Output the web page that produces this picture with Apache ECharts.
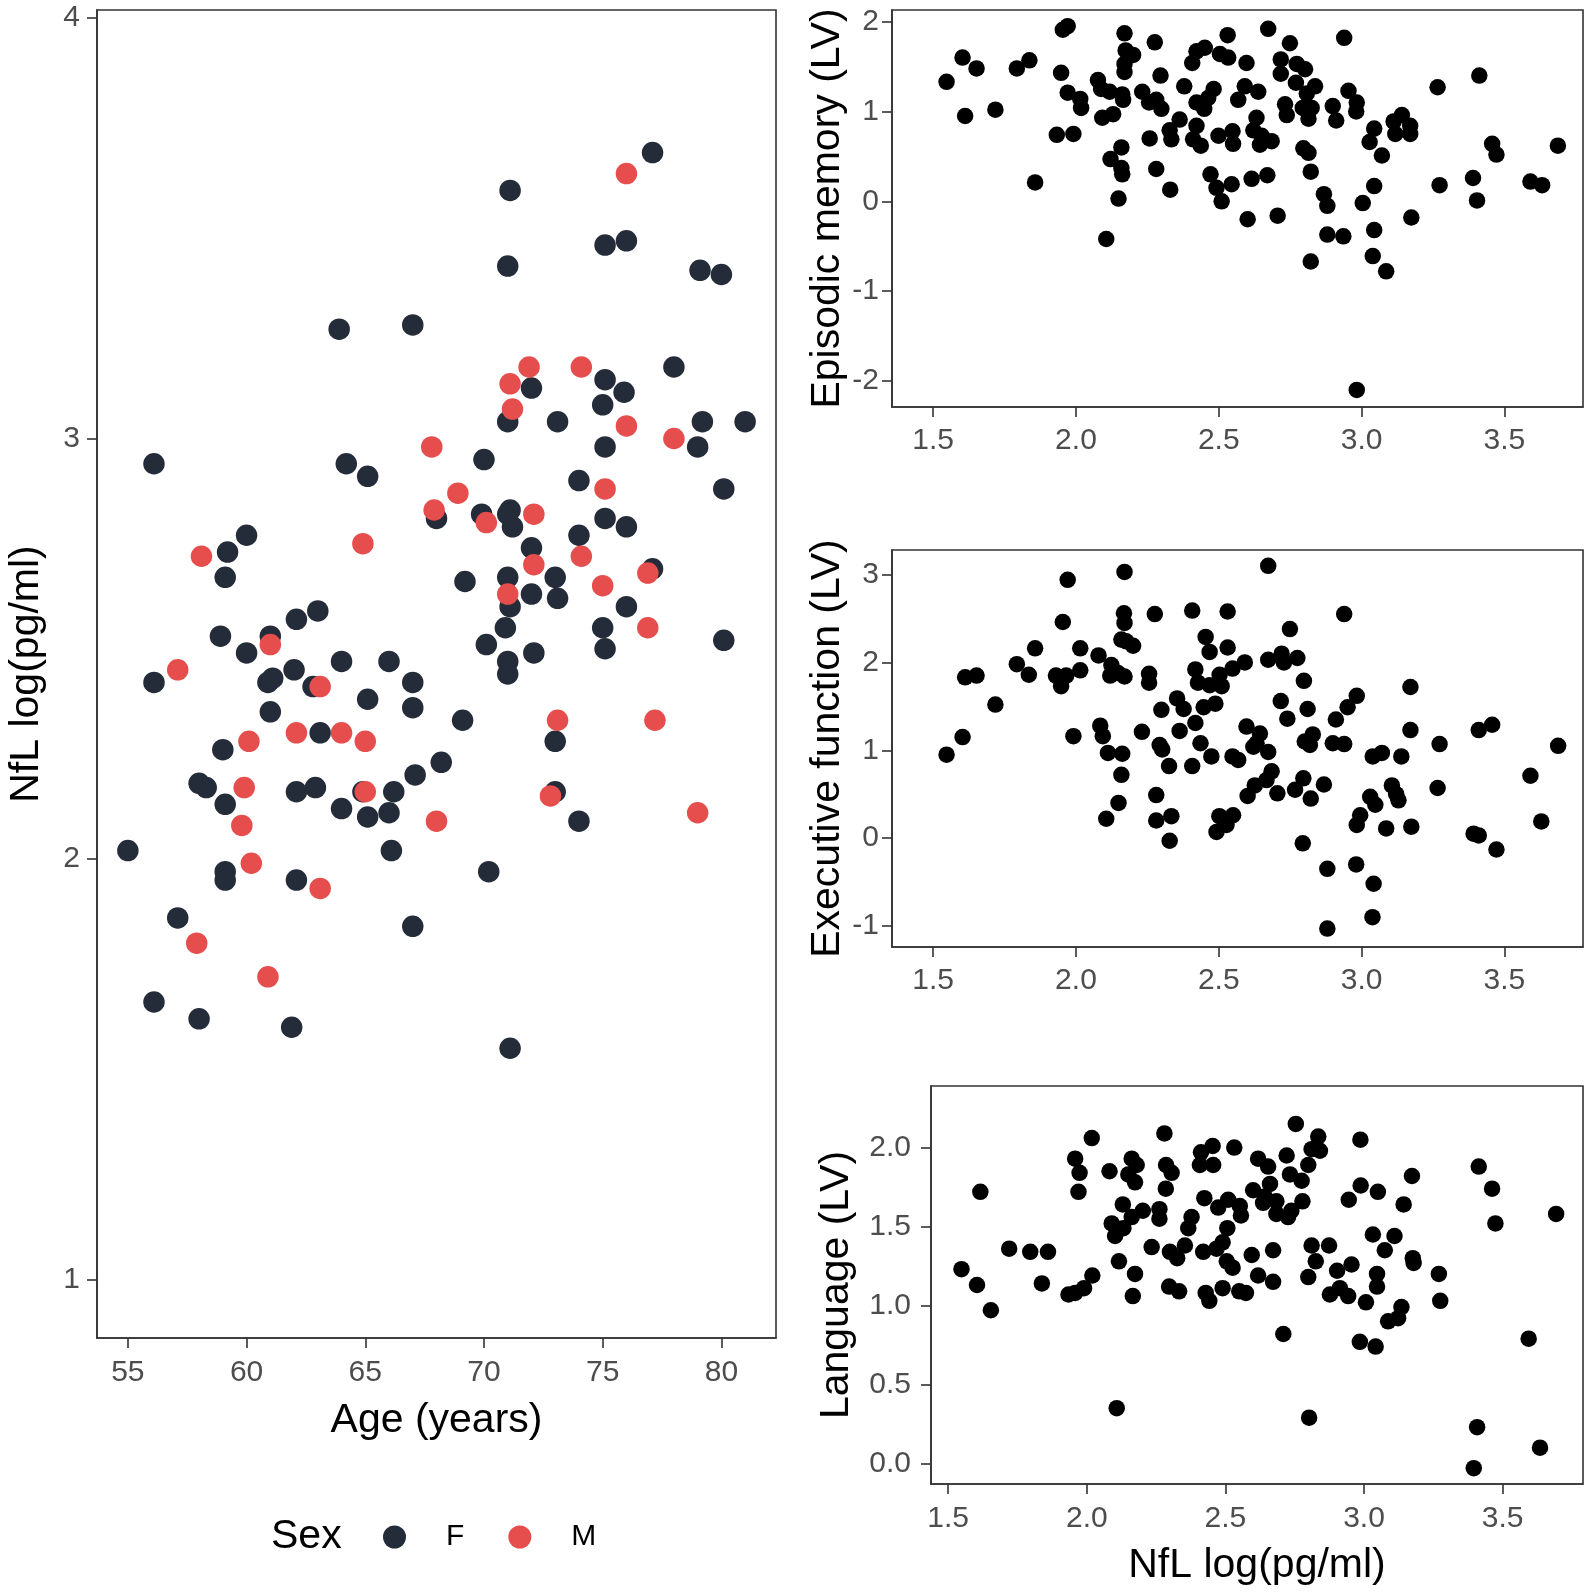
<!DOCTYPE html>
<html>
<head>
<meta charset="utf-8">
<script src="https://cdn.jsdelivr.net/npm/echarts@6/dist/echarts.min.js"></script>
<style>
  html, body { margin: 0; padding: 0; background: #fff; }
  #chart { width: 1595px; height: 1595px; }
</style>
</head>
<body>
<div id="chart"></div>
<script>
// NfL vs age, split by sex  [age, NfL]
const femalePts = [
  [55.0,2.02],[56.1,2.94],[56.1,2.42],[56.1,1.66],[57.1,1.86],[58.0,1.62],[58.0,2.18],[58.3,2.17],
  [59.2,2.73],[59.1,2.67],[58.9,2.53],[59.0,2.26],[59.1,2.13],[59.1,1.97],[59.1,1.95],[60.0,2.77],
  [60.0,2.49],[61.0,2.53],[60.9,2.42],[61.1,2.43],[61.0,2.35],[62.1,2.57],[62.0,2.45],[62.1,2.16],
  [62.1,1.95],[61.9,1.60],[63.0,2.59],[62.8,2.41],[63.1,2.30],[62.9,2.17],[63.9,3.26],[64.2,2.94],
  [64.0,2.47],[64.0,2.12],[65.1,2.91],[65.1,2.38],[65.1,2.10],[64.9,2.16],[66.0,2.47],[66.0,2.11],
  [66.2,2.16],[66.1,2.02],[67.0,3.27],[67.0,2.42],[67.0,2.36],[67.1,2.20],[67.0,1.84],[68.2,2.23],
  [68.0,2.81],[69.1,2.33],[69.2,2.66],[70.0,2.95],[69.9,2.82],[70.1,2.51],[70.2,1.97],[71.1,3.59],
  [71.0,3.41],[71.0,3.04],[71.1,2.83],[71.0,2.82],[71.2,2.79],[71.0,2.67],[71.1,2.60],[70.9,2.55],
  [71.0,2.47],[71.0,2.44],[71.1,1.55],[72.0,3.12],[72.0,2.74],[72.0,2.63],[72.1,2.49],[73.1,3.04],
  [73.0,2.67],[73.1,2.62],[73.0,2.28],[73.0,2.16],[74.0,2.90],[74.0,2.77],[74.0,2.09],[75.1,3.46],
  [75.1,3.14],[75.0,3.08],[75.1,2.98],[75.1,2.81],[75.0,2.55],[75.1,2.50],[76.0,3.47],[75.9,3.11],
  [76.0,2.79],[76.0,2.60],[77.1,3.68],[77.1,2.69],[78.0,3.17],[79.1,3.40],[79.2,3.04],[79.0,2.98],
  [80.0,3.39],[80.1,2.88],[80.1,2.52],[81.0,3.04]
]
const malePts = [
  [57.1,2.45],[58.1,2.72],[57.9,1.80],[60.1,2.28],[59.9,2.17],[59.8,2.08],[60.2,1.99],[60.9,1.72],
  [63.1,1.93],[62.1,2.30],[64.0,2.30],[65.0,2.28],[65.0,2.16],[61.0,2.51],[63.1,2.41],[64.9,2.75],
  [68.0,2.09],[67.8,2.98],[67.9,2.83],[68.9,2.87],[70.1,2.80],[71.1,3.13],[71.2,3.07],[71.9,3.17],
  [72.1,2.82],[72.1,2.70],[71.0,2.63],[74.1,3.17],[74.1,2.72],[75.1,2.88],[75.0,2.65],[76.0,3.63],
  [76.0,3.03],[76.9,2.68],[76.9,2.55],[73.1,2.33],[77.2,2.33],[72.8,2.15],[78.0,3.00],[79.0,2.11]
]

// cognition (LV) vs NfL  [NfL, score]
const episodicPts = [
  [1.547,1.33],[1.603,1.60],[1.652,1.48],[1.612,0.95],[1.718,1.02],[1.793,1.48],[1.837,1.57],[1.954,1.91],
  [1.971,1.95],[1.948,1.43],[1.971,1.21],[2.015,1.14],[2.018,1.04],[1.933,0.74],[1.991,0.75],[1.857,0.21],
  [2.077,1.35],[2.088,1.25],[2.118,1.22],[2.162,1.19],[2.165,1.13],[2.092,0.93],[2.130,0.97],[2.170,1.87],
  [2.174,1.68],[2.200,1.63],[2.170,1.53],[2.170,1.44],[2.276,1.77],[2.296,1.40],[2.232,1.22],[2.256,1.10],
  [2.281,1.13],[2.299,1.03],[2.258,0.70],[2.159,0.60],[2.121,0.47],[2.159,0.37],[2.162,0.30],[2.149,0.03],
  [2.106,-0.42],[2.281,0.36],[2.330,0.13],[2.379,1.28],[2.363,0.91],[2.328,0.79],[2.334,0.69],[2.422,1.67],
  [2.451,1.71],[2.407,1.54],[2.531,1.85],[2.504,1.64],[2.533,1.60],[2.597,1.54],[2.422,1.10],[2.449,1.03],
  [2.463,1.15],[2.482,1.25],[2.422,0.84],[2.410,0.69],[2.437,0.62],[2.499,0.73],[2.548,0.78],[2.550,0.64],
  [2.471,0.30],[2.492,0.15],[2.510,0.00],[2.545,0.19],[2.615,0.25],[2.601,-0.20],[2.591,1.28],[2.568,1.13],
  [2.638,1.22],[2.673,1.92],[2.749,1.76],[2.717,1.58],[2.717,1.42],[2.773,1.53],[2.802,1.47],[2.770,1.32],
  [2.837,1.28],[2.808,1.20],[2.794,1.04],[2.825,1.04],[2.814,0.92],[2.732,1.08],[2.738,0.96],[2.632,0.93],
  [2.621,0.79],[2.650,0.73],[2.644,0.63],[2.685,0.67],[2.939,1.82],[2.899,1.06],[2.911,0.90],[2.954,1.23],
  [2.983,1.10],[2.981,1.00],[2.796,0.59],[2.814,0.54],[2.822,0.33],[2.670,0.29],[2.706,-0.16],[2.868,0.08],
  [2.880,-0.05],[3.044,0.81],[3.028,0.66],[3.071,0.51],[3.112,0.89],[3.141,0.96],[3.170,0.84],[3.118,0.75],
  [3.170,0.75],[3.044,0.17],[3.004,-0.02],[3.174,-0.18],[3.044,-0.32],[2.880,-0.37],[2.936,-0.39],[3.039,-0.61],
  [3.086,-0.78],[2.822,-0.67],[2.983,-2.10],[3.266,1.27],[3.412,1.40],[3.457,0.64],[3.472,0.52],[3.687,0.62],
  [3.273,0.18],[3.390,0.26],[3.404,0.01],[3.591,0.22],[3.632,0.18]
]
const executivePts = [
  [1.547,0.95],[1.603,1.15],[1.612,1.83],[1.652,1.85],[1.718,1.52],[1.793,1.98],[1.835,1.86],[1.857,2.16],
  [1.971,2.94],[1.954,2.46],[1.930,1.85],[1.966,1.85],[1.948,1.73],[2.015,2.16],[2.015,1.91],[1.991,1.16],
  [2.079,2.08],[2.124,1.97],[2.120,1.85],[2.170,1.84],[2.147,1.88],[2.170,3.03],[2.168,2.56],[2.170,2.45],
  [2.159,2.26],[2.200,2.19],[2.176,2.24],[2.256,1.87],[2.256,1.77],[2.276,2.55],[2.085,1.28],[2.094,1.16],
  [2.112,0.97],[2.162,0.96],[2.159,0.72],[2.149,0.40],[2.106,0.22],[2.231,1.21],[2.299,1.46],[2.293,1.06],
  [2.302,1.01],[2.326,0.82],[2.281,0.49],[2.281,0.20],[2.334,0.25],[2.328,-0.03],[2.407,2.59],[2.454,2.29],
  [2.468,2.12],[2.531,2.58],[2.531,2.17],[2.591,2.00],[2.548,1.93],[2.418,1.92],[2.427,1.77],[2.468,1.74],
  [2.503,1.86],[2.510,1.73],[2.354,1.59],[2.377,1.47],[2.447,1.49],[2.488,1.53],[2.418,1.31],[2.363,1.22],
  [2.436,1.08],[2.474,0.93],[2.407,0.82],[2.548,0.93],[2.568,0.89],[2.597,1.27],[2.601,0.48],[2.626,0.60],
  [2.502,0.25],[2.492,0.07],[2.527,0.15],[2.550,0.26],[2.673,3.10],[2.749,2.38],[2.939,2.55],[2.673,2.03],
  [2.720,2.10],[2.728,2.00],[2.775,2.05],[2.798,1.79],[2.717,1.56],[2.740,1.36],[2.811,1.47],[2.644,1.19],
  [2.632,1.08],[2.673,0.98],[2.621,1.04],[2.685,0.76],[2.667,0.66],[2.705,0.51],[2.767,0.55],[2.796,0.68],
  [2.822,0.45],[2.868,0.61],[2.794,-0.06],[2.880,-0.35],[2.880,-1.03],[2.801,1.10],[2.829,1.18],[2.819,1.06],
  [2.899,1.08],[2.939,1.07],[2.910,1.35],[2.951,1.49],[2.983,1.62],[3.039,0.93],[3.071,0.97],[3.139,0.93],
  [3.171,1.72],[3.171,1.23],[3.273,1.07],[3.266,0.57],[3.106,0.60],[3.121,0.50],[3.129,0.43],[3.030,0.47],
  [3.048,0.38],[2.995,0.26],[2.983,0.15],[3.086,0.11],[3.174,0.13],[2.981,-0.30],[3.042,-0.52],[3.038,-0.90],
  [3.410,1.23],[3.457,1.29],[3.688,1.05],[3.591,0.71],[3.629,0.19],[3.392,0.05],[3.410,0.03],[3.472,-0.13]
]
const languagePts = [
  [1.548,1.23],[1.604,1.13],[1.654,0.97],[1.616,1.72],[1.720,1.36],[1.796,1.34],[1.860,1.34],[1.838,1.14],
  [1.934,1.07],[1.958,1.08],[1.990,1.11],[2.020,1.19],[1.958,1.93],[1.974,1.84],[1.970,1.72],[2.018,2.06],
  [2.082,1.85],[2.108,0.35],[2.116,1.28],[2.162,1.93],[2.180,1.89],[2.150,1.83],[2.174,1.78],[2.130,1.64],
  [2.090,1.52],[2.102,1.44],[2.132,1.49],[2.162,1.56],[2.202,1.60],[2.174,1.20],[2.166,1.06],[2.234,1.37],
  [2.262,1.61],[2.262,1.55],[2.280,2.09],[2.286,1.89],[2.306,1.84],[2.285,1.74],[2.300,1.34],[2.326,1.30],
  [2.354,1.38],[2.297,1.12],[2.333,1.09],[2.378,1.56],[2.366,1.49],[2.412,1.97],[2.454,2.01],[2.408,1.89],
  [2.456,1.89],[2.532,2.00],[2.424,1.68],[2.474,1.62],[2.510,1.67],[2.552,1.63],[2.556,1.57],[2.507,1.49],
  [2.490,1.40],[2.468,1.36],[2.420,1.34],[2.505,1.28],[2.526,1.24],[2.429,1.08],[2.442,1.03],[2.490,1.11],
  [2.550,1.09],[2.574,1.08],[2.595,1.32],[2.618,1.19],[2.600,1.73],[2.618,1.93],[2.754,2.15],[2.835,2.07],
  [2.811,1.99],[2.841,1.98],[2.799,1.89],[2.987,2.05],[2.654,1.88],[2.721,1.95],[2.733,1.83],[2.775,1.79],
  [2.661,1.77],[2.642,1.69],[2.636,1.65],[2.684,1.66],[2.684,1.58],[2.726,1.56],[2.738,1.60],[2.778,1.66],
  [3.173,1.82],[2.988,1.76],[3.050,1.72],[2.945,1.67],[3.143,1.64],[3.032,1.45],[3.110,1.44],[3.075,1.35],
  [3.176,1.30],[3.179,1.27],[3.270,1.20],[3.275,1.03],[2.811,1.38],[2.874,1.38],[2.826,1.28],[2.799,1.18],
  [2.672,1.35],[2.672,1.15],[2.903,1.22],[2.955,1.26],[2.877,1.07],[2.913,1.11],[2.943,1.06],[3.007,1.02],
  [3.047,1.20],[3.047,1.12],[3.135,0.99],[3.123,0.92],[3.087,0.90],[2.985,0.77],[3.042,0.74],[2.709,0.82],
  [2.802,0.29],[3.414,1.88],[3.462,1.74],[3.474,1.52],[3.693,1.58],[3.594,0.79],[3.408,0.23],[3.396,-0.03],
  [3.635,0.10]
]

// tick labels
const ageTicks = [55, 60, 65, 70, 75, 80]
const nflTicks = [1, 2, 3, 4]
const nflXTicks = [1.5, 2.0, 2.5, 3.0, 3.5]
const episodicTicks = [-2, -1, 0, 1, 2]
const executiveTicks = [-1, 0, 1, 2, 3]
const languageTicks = [0, 0.5, 1, 1.5, 2]

const FONT = 'Liberation Sans'
const AXIS_COLOR = '#333333'
const LABEL_COLOR = '#4d4d4d'
const COLOR_F = '#252c39'
const COLOR_M = '#e64d4d'

const myChart = echarts.init(document.getElementById('chart'))

// one value axis with ggplot-like look
function axis(gridIndex, min, max, ticks, opts) {
  return {
    type: 'value',
    gridIndex,
    min,
    max,
    name: opts.name || '',
    nameLocation: 'middle',
    nameGap: opts.nameGap || 0,
    nameTextStyle: { fontFamily: FONT, fontSize: 41, color: '#000' },
    axisLine: { show: true, onZero: false, lineStyle: { color: AXIS_COLOR, width: 1.6 } },
    axisTick: { show: true, length: 10, customValues: ticks, lineStyle: { color: AXIS_COLOR, width: 1.6 } },
    axisLabel: {
      customValues: ticks,
      margin: opts.margin || 12,
      fontFamily: FONT,
      fontSize: 30,
      color: LABEL_COLOR,
      formatter: opts.fmt || (v => String(v))
    },
    splitLine: { show: false }
  }
}

const fixed1 = v => v.toFixed(1)

const grids = [
  { left: 97, top: 10, width: 679, height: 1328 },
  { left: 892, top: 10, width: 691, height: 397 },
  { left: 892, top: 550, width: 691, height: 397 },
  { left: 931, top: 1086, width: 652, height: 398 }
].map(g => ({ ...g, show: true, borderColor: AXIS_COLOR, borderWidth: 1.6, backgroundColor: '#fff' }))

const option = {
  backgroundColor: '#fff',
  animation: false,
  grid: grids,
  xAxis: [
    axis(0, 53.7, 82.3, ageTicks, { name: 'Age (years)', nameGap: 62, margin: 20 }),
    axis(1, 1.356, 3.775, nflXTicks, { fmt: fixed1, margin: 19 }),
    axis(2, 1.356, 3.775, nflXTicks, { fmt: fixed1, margin: 19 }),
    axis(3, 1.438, 3.79, nflXTicks, { fmt: fixed1, name: 'NfL log(pg/ml)', nameGap: 61, margin: 20 })
  ],
  yAxis: [
    axis(0, 0.861, 4.019, nflTicks, { name: 'NfL log(pg/ml)', nameGap: 50, margin: 17 }),
    axis(1, -2.29, 2.13, episodicTicks, { name: 'Episodic memory (LV)', nameGap: 35, margin: 13 }),
    axis(2, -1.24, 3.28, executiveTicks, { name: 'Executive function (LV)', nameGap: 35, margin: 13 }),
    axis(3, -0.13, 2.39, languageTicks, { fmt: fixed1, name: 'Language (LV)', nameGap: 74, margin: 20 })
  ],
  legend: {
    data: ['F', 'M'],
    left: 383,
    top: 1522,
    padding: 0,
    icon: 'circle',
    itemWidth: 23,
    itemHeight: 23,
    itemGap: 44,
    textStyle: { fontFamily: FONT, fontSize: 30, color: '#000', padding: [0, 0, 0, 35] }
  },
  graphic: [
    {
      type: 'text',
      left: 271,
      top: 1516,
      style: { text: 'Sex', font: '41px "Liberation Sans"', fill: '#000' }
    }
  ],
  series: [
    { name: 'F', type: 'scatter', xAxisIndex: 0, yAxisIndex: 0, data: femalePts,
      symbolSize: 21.5, itemStyle: { color: COLOR_F, opacity: 1 } },
    { name: 'M', type: 'scatter', xAxisIndex: 0, yAxisIndex: 0, data: malePts,
      symbolSize: 21.5, itemStyle: { color: COLOR_M, opacity: 1 } },
    { type: 'scatter', xAxisIndex: 1, yAxisIndex: 1, data: episodicPts,
      symbolSize: 16.5, itemStyle: { color: '#000', opacity: 1 } },
    { type: 'scatter', xAxisIndex: 2, yAxisIndex: 2, data: executivePts,
      symbolSize: 16.5, itemStyle: { color: '#000', opacity: 1 } },
    { type: 'scatter', xAxisIndex: 3, yAxisIndex: 3, data: languagePts,
      symbolSize: 16.5, itemStyle: { color: '#000', opacity: 1 } }
  ]
}

myChart.setOption(option)
</script>
</body>
</html>
